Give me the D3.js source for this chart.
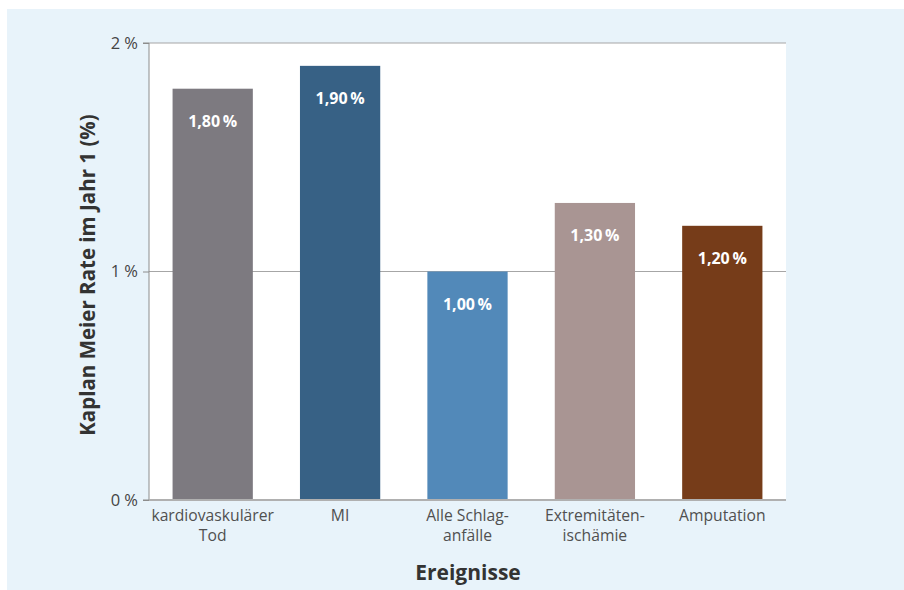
<!DOCTYPE html>
<html><head><meta charset="utf-8">
<script src="https://cdn.jsdelivr.net/npm/d3@7"></script>
<style>body{margin:0;background:#fff;}svg{display:block;}</style>
</head><body>
<svg id="c" width="904" height="590"></svg>
<script>
const categories = [["kardiovaskulärer","Tod"],["MI"],["Alle Schlag-","anfälle"],["Extremitäten-","ischämie"],["Amputation"]];
const values = [1.80, 1.90, 1.00, 1.30, 1.20];
const colors = ["#7d7a80", "#376185", "#5289b9", "#a99593", "#763c19"];
const yTicks = [0, 1, 2];
const yTitle = "Kaplan Meier Rate im Jahr 1 (%)";
const xTitle = "Ereignisse";

const svg = d3.select("#c");
const font = "'Open Sans', 'Noto Sans', sans-serif";
svg.append("rect").attr("x",7).attr("y",9).attr("width",897).attr("height",581).attr("fill","#e8f3fa");
const m = {l:149, r:786, t:43, b:500};
svg.append("rect").attr("x",m.l).attr("y",m.t).attr("width",m.r-m.l).attr("height",m.b-m.t).attr("fill","#fff");

const x = d3.scaleBand().domain(d3.range(categories.length)).range([m.l, m.r]).paddingInner(0.37).paddingOuter(0.185);
const y = d3.scaleLinear().domain([0,2]).range([m.b, m.t]);

// grid
svg.append("g").selectAll("line").data(yTicks.filter(d=>d>0)).join("line")
  .attr("x1", m.l).attr("x2", m.r).attr("y1", d=>y(d)).attr("y2", d=>y(d))
  .attr("stroke","#a6a6a6").attr("stroke-width",1.2);

// bars
svg.append("g").selectAll("rect").data(values).join("rect")
  .attr("x",(d,i)=>x(i)).attr("width",x.bandwidth())
  .attr("y",d=>y(d)).attr("height",d=>m.b-y(d)).attr("fill",(d,i)=>colors[i]);

// value labels
svg.append("g").selectAll("text").data(values).join("text")
  .attr("x",(d,i)=>x(i)+x.bandwidth()/2).attr("y",d=>y(d)+38)
  .attr("text-anchor","middle").attr("fill","#fff").attr("font-family",font)
  .attr("font-weight","bold").attr("font-size",16)
  .text(d=>d.toFixed(2).replace(".",",")+"\u2009%");

// y axis
const ya = d3.axisLeft(y).tickValues(yTicks).tickSize(6).tickPadding(5).tickFormat(d=>d+" %");
const gy = svg.append("g").attr("transform",`translate(${m.l},0)`).call(ya);
gy.select(".domain").attr("stroke","#8c8c8c").attr("d",`M-6,${m.t}H0V${m.b}H-6`);
gy.selectAll(".tick line").attr("stroke","#8c8c8c");
gy.selectAll(".tick text").attr("font-family",font).attr("font-size",16.5).attr("fill","#444");

// x axis baseline
svg.append("line").attr("x1",m.l).attr("x2",m.r).attr("y1",m.b).attr("y2",m.b).attr("stroke","#b0b0b0").attr("stroke-width",2);

// category labels
const cl = svg.append("g").selectAll("text").data(categories).join("text")
  .attr("x",(d,i)=>x(i)+x.bandwidth()/2).attr("y",521)
  .attr("text-anchor","middle").attr("font-family",font).attr("font-size",15.7).attr("fill","#505050");
cl.selectAll("tspan").data(d=>d).join("tspan")
  .attr("x",function(){return this.parentNode.getAttribute("x");})
  .attr("dy",(d,i)=>i?20:0).text(d=>d);

// titles
svg.append("text").attr("x",468).attr("y",580).attr("text-anchor","middle")
  .attr("font-family",font).attr("font-weight","bold").attr("font-size",21).attr("fill","#333").text(xTitle);
svg.append("text").attr("transform","translate(95,275) rotate(-90)").attr("text-anchor","middle")
  .attr("font-family",font).attr("font-weight","bold").attr("font-size",20.5).attr("fill","#333").text(yTitle);
</script>
</body></html>
